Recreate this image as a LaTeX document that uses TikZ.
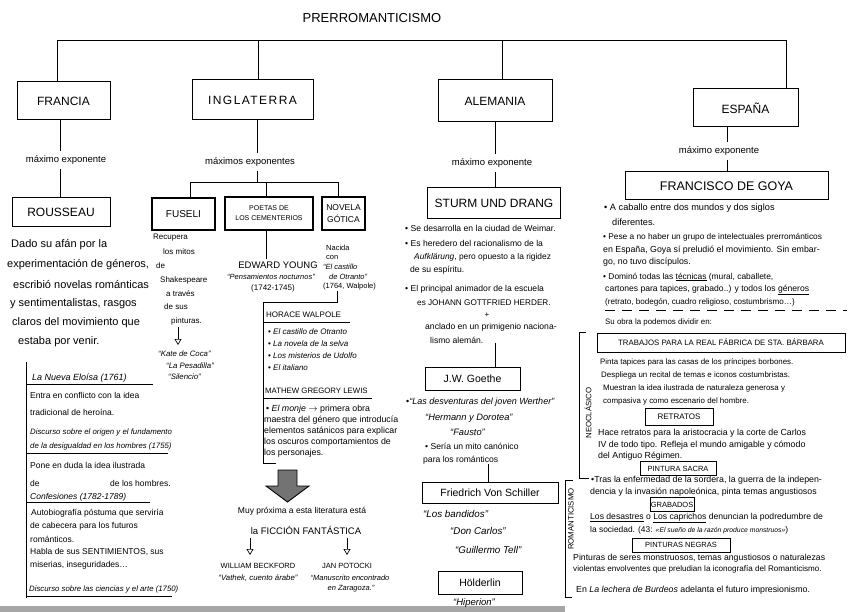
\documentclass[tikz,border=0pt]{standalone}
\usepackage{fontspec}
\setmainfont{Liberation Sans}
\usetikzlibrary{arrows.meta}
\newcommand\myfs[1]{\fontsize{#1}{#1}\selectfont}
\begin{document}
\begin{tikzpicture}[x=1pt,y=-1pt,
  box/.style={draw, line width=1pt, inner sep=0pt},
  tbox/.style={draw, line width=2pt, inner sep=0pt},
  tx/.style={anchor=west, inner sep=0pt},
  tc/.style={anchor=center, inner sep=0pt},
  lbl/.style={anchor=center, inner sep=4pt},
  ln/.style={line width=0.9pt},
  oarr/.style={line width=0.7pt, -{Triangle[open,length=6pt,width=7pt]}},
]
\useasboundingbox (0,0) rectangle (848,612);
\fill[white] (0,0) rectangle (848,612);
\fill[black!35] (0,606) rectangle (565,612);

% title and bus
\node[tc, font=\myfs{13}] (title) at (372,18) {PRERROMANTICISMO};
\coordinate (bF) at (57,40);
\coordinate (bI) at (258,40);
\coordinate (bA) at (502,40);
\coordinate (bE) at (786,40);
\draw[ln] (bF) -- (bE);

\node[box, minimum width=93, minimum height=38, font=\myfs{12}] (francia) at (63.5,101) {FRANCIA};
\node[box, minimum width=121, minimum height=40, font=\myfs{12}\addfontfeature{LetterSpace=12}] (ingl) at (252.5,100) {INGLATERRA};
\node[box, minimum width=114, minimum height=42, font=\myfs{12}] (alem) at (495,101) {ALEMANIA};
\node[box, minimum width=105, minimum height=38, font=\myfs{12}] (espana) at (745.5,108) {ESPAÑA};
\draw[ln] (bF) -- (bF |- francia.north);
\draw[ln] (bI) -- (bI |- ingl.north);
\draw[ln] (bA) -- (bA |- alem.north);
\draw[ln] (bE) -- (bE |- espana.north);

% ---------------- FRANCIA
\coordinate (vF) at (60,0);
\node[lbl, font=\myfs{9.5}] (mxF) at (66,160) {máximo exponente};
\node[box, minimum width=98, minimum height=29, font=\myfs{12}] (rousseau) at (61,212.5) {ROUSSEAU};
\draw[ln] (francia.south -| vF) -- (mxF.north -| vF);
\draw[ln] (mxF.south -| vF) -- (rousseau.north -| vF);

\node[tx, font=\myfs{11}] (ro1) at (11,245) {Dado su afán por la};
\node[tx, font=\myfs{11}] (ro2) at (7,265) {experimentación de géneros,};
\node[tx, font=\myfs{11}] (ro3) at (13,285) {escribió novelas románticas};
\node[tx, font=\myfs{11}] (ro4) at (10,304) {y sentimentalistas, rasgos};
\node[tx, font=\myfs{11}] (ro5) at (12,323) {claros del movimiento que};
\node[tx, font=\myfs{11}] (ro6) at (18,342) {estaba por venir.};

\coordinate (fr1) at (26,362);
\coordinate (fr2) at (26,598);
\draw[ln] (fr1) -- (fr2);
\node[tx, font=\myfs{9}\itshape] (fe1) at (32,378) {La Nueva Eloísa (1761)};
\draw[ln] (26,384) -- (153,384);
\node[tx, font=\myfs{8.5}] (fe2) at (30,395) {Entra en conflicto con la idea};
\node[tx, font=\myfs{8.5}] (fe3) at (30,412) {tradicional de heroína.};
\node[tx, font=\myfs{7.8}\itshape] (fe4) at (30,432) {Discurso sobre el origen y el fundamento};
\node[tx, font=\myfs{7.8}\itshape] (fe5) at (30,446) {de la desigualdad en los hombres (1755)};
\draw[ln] (26,453) -- (168,453);
\node[tx, font=\myfs{8.5}] (fe6) at (30,465) {Pone en duda la idea ilustrada};
\node[tx, font=\myfs{8.5}] (fe7) at (30,483) {de};
\node[tx, font=\myfs{8.5}] (fe8) at (110,483) {de los hombres.};
\node[tx, font=\myfs{8.5}\itshape] (fe9) at (30,497) {Confesiones (1782-1789)};
\draw[ln] (26,502) -- (150,502);
\node[tx, font=\myfs{8.5}] (fe10) at (31,513) {Autobiografía póstuma que serviría};
\node[tx, font=\myfs{8.5}] (fe11) at (30,526) {de cabecera para los futuros};
\node[tx, font=\myfs{8.5}] (fe12) at (30,539) {románticos.};
\node[tx, font=\myfs{8.5}] (fe13) at (30,552) {Habla de sus SENTIMIENTOS, sus};
\node[tx, font=\myfs{8.5}] (fe14) at (30,565) {miserias, inseguridades\dots};
\node[tx, font=\myfs{7.8}\itshape] (fe15) at (29,589) {Discurso sobre las ciencias y el arte (1750)};
\draw[ln] (26,596) -- (172,596);

% ---------------- INGLATERRA
\coordinate (vI) at (257,0);
\node[lbl, font=\myfs{9.5}] (mxI) at (250,162) {máximos exponentes};
\coordinate (brI) at (257,182);
\coordinate (dF) at (190,182);
\coordinate (dP) at (266,182);
\coordinate (dN) at (338,182);
\node[tbox, minimum width=63, minimum height=32, font=\myfs{10}] (fuseli) at (183.5,214) {FUSELI};
\node[tbox, minimum width=88, minimum height=33, align=center, font=\myfs{7}] (poetas) at (269,213.5) {POETAS DE\\[3pt]LOS CEMENTERIOS};
\node[tbox, minimum width=43, minimum height=33, align=center, font=\myfs{8.5}] (novela) at (343.5,213.5) {NOVELA\\[3pt]GÓTICA};
\draw[ln] (ingl.south -| vI) -- (mxI.north -| vI);
\draw[ln] (mxI.south -| vI) -- (brI);
\draw[ln] (dF |- fuseli.north) -- (dF) -- (dN) -- (dN |- novela.north);
\draw[ln] (dP) -- (dP |- poetas.north);

\node[tx, font=\myfs{8}] (fu1) at (153,238) {Recupera};
\node[tx, font=\myfs{8}] (fu2) at (163,252) {los mitos};
\node[tx, font=\myfs{8}] (fu3) at (156,266) {de};
\node[tx, font=\myfs{8}] (fu4) at (160,280) {Shakespeare};
\node[tx, font=\myfs{8}] (fu5) at (166,294) {a través};
\node[tx, font=\myfs{8}] (fu6) at (164,307) {de sus};
\node[tx, font=\myfs{8}] (fu7) at (171,321) {pinturas.};
\coordinate (fa1) at (178,327);
\coordinate (fa2) at (178,345);
\draw[oarr] (fa1) -- (fa2);
\node[tx, font=\myfs{7.8}\itshape] (fu8) at (158,354) {“Kate de Coca”};
\node[tx, font=\myfs{7.8}\itshape] (fu9) at (166,366) {“La Pesadilla”};
\node[tx, font=\myfs{7.8}\itshape] (fu10) at (168,377) {“Silencio”};

\coordinate (vP) at (266,0);
\node[anchor=center, inner sep=2pt, font=\myfs{9.5}] (ey1) at (278,265) {EDWARD YOUNG};
\draw[ln] (poetas.south -| vP) -- (ey1.north -| vP);
\node[tc, font=\myfs{7.5}\itshape] (ey2) at (271,277) {“Pensamientos nocturnos”};
\node[tc, font=\myfs{8}] (ey3) at (273,288) {(1742-1745)};

\node[tx, font=\myfs{7.5}] (nv1) at (326,248) {Nacida};
\node[tx, font=\myfs{7.5}] (nv2) at (326,258) {con};
\node[tx, font=\myfs{7.5}\itshape] (nv3) at (323,267) {“El castillo};
\node[tx, font=\myfs{7.5}\itshape] (nv4) at (329,277) {de Otranto”};
\node[tx, font=\myfs{7.5}] (nv5) at (323,287) {(1764, Walpole)};
\coordinate (w1) at (337,302);
\coordinate (w2) at (263,302);
\coordinate (w3) at (263,463);
\coordinate (w4) at (276,463);
\draw[ln] (nv5.south -| w1) -- (w1) -- (w2) -- (w3) -- (w4);

\node[tx, font=\myfs{8}] (hw0) at (266,315) {HORACE WALPOLE};
\draw[ln] (263,322) -- (350,322);
\node[tx, font=\myfs{8}] (hw1) at (268,332) {• \textit{El castillo de Otranto}};
\node[tx, font=\myfs{8}] (hw2) at (268,344) {• \textit{La novela de la selva}};
\node[tx, font=\myfs{8}] (hw3) at (268,356) {• \textit{Los misterios de Udolfo}};
\node[tx, font=\myfs{8}] (hw4) at (268,368) {• \textit{El italiano}};
\node[tx, font=\myfs{7.8}] (ml0) at (265,391) {MATHEW GREGORY LEWIS};
\draw[ln] (263,398) -- (372,398);
\node[tx, font=\myfs{8.8}] (ml1) at (266,409) {• \textit{El monje} $\rightarrow$ primera obra};
\node[tx, font=\myfs{8.8}] (ml2) at (264,420) {maestra del género que introducía};
\node[tx, font=\myfs{8.8}] (ml3) at (264,431) {elementos satánicos para explicar};
\node[tx, font=\myfs{8.8}] (ml4) at (264,442) {los oscuros comportamientos de};
\node[tx, font=\myfs{8.8}] (ml5) at (264,453) {los personajes.};

% big arrow
\draw[line width=0.9pt, fill=black!55] (278,470) -- (297,470) -- (297,486) -- (309,486) -- (287.5,502) -- (266,486) -- (278,486) -- cycle;
\node[tc, font=\myfs{8.5}] (ff1) at (302,511) {Muy próxima a esta literatura está};
\node[tc, font=\myfs{9.5}] (ff2) at (306,530) {la FICCIÓN FANTÁSTICA};
\coordinate (fb1) at (250,538);
\coordinate (fb2) at (250,555);
\coordinate (fp1) at (347,538);
\coordinate (fp2) at (347,555);
\draw[oarr] (fb1) -- (fb2);
\draw[oarr] (fp1) -- (fp2);
\node[tc, font=\myfs{7.5}] (wb1) at (258,566) {WILLIAM BECKFORD};
\node[tc, font=\myfs{7.8}\itshape] (wb2) at (258,578) {“Vathek, cuento árabe”};
\node[tc, font=\myfs{7.5}] (jp1) at (347,566) {JAN POTOCKI};
\node[tc, font=\myfs{7.5}\itshape] (jp2) at (350,578) {“Manuscrito encontrado};
\node[tc, font=\myfs{7.5}\itshape] (jp3) at (351,589) {en Zaragoza.”};

% ---------------- ALEMANIA
\coordinate (vA) at (495,0);
\node[lbl, font=\myfs{9.5}] (mxA) at (492,163) {máximo exponente};
\node[box, minimum width=133, minimum height=31, font=\myfs{12}] (sturm) at (494,203) {STURM UND DRANG};
\draw[ln] (alem.south -| vA) -- (mxA.north -| vA);
\draw[ln] (mxA.south -| vA) -- (sturm.north -| vA);
\node[tx, font=\myfs{8.6}] (al1) at (405,228) {• Se desarrolla en la ciudad de Weimar.};
\node[tx, font=\myfs{8.6}] (al2) at (405,243) {• Es heredero del racionalismo de la};
\node[tx, font=\myfs{8.4}] (al3) at (414,257) {\textit{Aufklärung}, pero opuesto a la rigidez};
\node[tx, font=\myfs{8.6}] (al4) at (410,270) {de su espíritu.};
\node[tx, font=\myfs{8.6}] (al5) at (405,289) {• El principal animador de la escuela};
\node[tx, font=\myfs{8.2}] (al6) at (417,303) {es JOHANN GOTTFRIED HERDER.};
\node[tc, font=\myfs{8}] (al7) at (487,315) {+};
\node[tx, font=\myfs{8.6}] (al8) at (425,327) {anclado en un primigenio naciona-};
\node[tx, font=\myfs{8.6}] (al9) at (430,340) {lismo alemán.};
\node[box, minimum width=95, minimum height=23, font=\myfs{10.5}] (goethe) at (472.5,378.5) {J.W. Goethe};
\draw[ln] (al9.south -| vA) -- (goethe.north -| vA);
\node[tx, font=\myfs{9}] (go1) at (406,402) {•\textit{“Las desventuras del joven Werther”}};
\node[tx, font=\myfs{9.3}\itshape] (go2) at (425,418) {“Hermann y Dorotea”};
\node[tx, font=\myfs{9.3}\itshape] (go3) at (450,432) {“Fausto”};
\node[tx, font=\myfs{8.6}] (go4) at (425,446) {• Sería un mito canónico};
\node[tx, font=\myfs{8.6}] (go5) at (423,460) {para los románticos};
\coordinate (vS) at (488,0);
\node[box, minimum width=136, minimum height=21, font=\myfs{10.5}] (schiller) at (490,492.5) {Friedrich Von Schiller};
\draw[ln] (go5.south -| vS) -- (schiller.north -| vS);
\node[tx, font=\myfs{9.8}\itshape] (sc1) at (423,514) {“Los bandidos”};
\node[tx, font=\myfs{9.8}\itshape] (sc2) at (450,531) {“Don Carlos”};
\node[tx, font=\myfs{9.8}\itshape] (sc3) at (455,550) {“Guillermo Tell”};
\node[box, minimum width=84, minimum height=23, font=\myfs{10.5}] (holderlin) at (480,582.5) {Hölderlin};
\node[tx, font=\myfs{9.5}\itshape] (ho1) at (453,603) {“Hiperion”};

% ---------------- ESPAÑA
\coordinate (vE) at (727,0);
\node[lbl, font=\myfs{9.5}] (mxE) at (719,151) {máximo exponente};
\node[box, minimum width=203, minimum height=28, font=\myfs{12.5}] (goya) at (726.5,186) {FRANCISCO DE GOYA};
\draw[ln] (espana.south -| vE) -- (mxE.north -| vE);
\draw[ln] (mxE.south -| vE) -- (goya.north -| vE);

\node[tx, font=\myfs{9.2}] (gy1) at (604,208) {• A caballo entre dos mundos y dos siglos};
\node[tx, font=\myfs{9.2}] (gy2) at (612,222) {diferentes.};
\node[tx, font=\myfs{8.3}] (gy3) at (603,237) {• Pese a no haber un grupo de intelectuales prerrománticos};
\node[tx, font=\myfs{8.8}] (gy4) at (603,250) {en España, Goya sí preludió el movimiento. Sin embar-};
\node[tx, font=\myfs{8.8}] (gy5) at (603,262) {go, no tuvo discípulos.};
\node[tx, font=\myfs{8.4}] (gy6) at (603,277) {• Dominó todas las \underline{técnicas} (mural, caballete,};
\node[tx, font=\myfs{8.6}] (gy7) at (605,290) {cartones para tapices, grabado..) y todos los \underline{géneros}};
\node[tx, font=\myfs{8.1}] (gy8) at (605,302) {(retrato, bodegón, cuadro religioso, costumbrismo\dots)};
\draw[line width=0.7pt, dash pattern=on 10pt off 7pt] (605,310) -- (847,310);
\node[tx, font=\myfs{7.9}] (gy9) at (605,322) {Su obra la podemos dividir en:};

% neoclasico bracket
\coordinate (nb1) at (586,332);
\coordinate (nb2) at (579,332);
\coordinate (nb3) at (579,478);
\coordinate (nb4) at (589,478);
\draw[ln] (nb1) -- (nb2) -- (nb3) -- (nb4);
\node[tc, rotate=90, font=\myfs{7.8}] (neo) at (588,413) {NEOCLÁSICO};

\node[box, minimum width=248, minimum height=19, font=\myfs{7.8}] (trab) at (721,342.5) {TRABAJOS PARA LA REAL FÁBRICA DE STA. BÁRBARA};
\node[tx, font=\myfs{7.9}] (tr1) at (600,362) {Pinta tapices para las casas de los príncipes borbones.};
\node[tx, font=\myfs{7.9}] (tr2) at (601,375) {Despliega un recital de temas e iconos costumbristas.};
\node[tx, font=\myfs{7.9}] (tr3) at (603,388) {Muestran la idea ilustrada de naturaleza generosa y};
\node[tx, font=\myfs{7.9}] (tr4) at (603,401) {compasiva y como escenario del hombre.};
\node[box, minimum width=68, minimum height=17, font=\myfs{8}] (retr) at (679,416.5) {RETRATOS};
\node[tx, font=\myfs{8.8}] (re1) at (598,433) {Hace retratos para la aristocracia y la corte de Carlos};
\node[tx, font=\myfs{8.8}] (re2) at (598,445) {IV de todo tipo. Refleja el mundo amigable y cómodo};
\node[tx, font=\myfs{8.8}] (re3) at (598,456) {del Antiguo Régimen.};
\node[box, minimum width=76, minimum height=14, font=\myfs{7.5}] (sacra) at (678,468.5) {PINTURA SACRA};

% romanticismo bracket
\coordinate (rb1) at (573,480);
\coordinate (rb2) at (565,480);
\coordinate (rb3) at (565,597);
\coordinate (rb4) at (572,597);
\draw[ln] (rb1) -- (rb2) -- (rb3) -- (rb4);
\node[tc, rotate=90, font=\myfs{7.8}] (roma) at (571,519) {ROMANTICISMO};

\node[tx, font=\myfs{8.8}] (rm1) at (591,480) {•Tras la enfermedad de la sordera, la guerra de la indepen-};
\node[tx, font=\myfs{8.8}] (rm2) at (590,492) {dencia y la invasión napoleónica, pinta temas angustiosos};
\node[box, minimum width=44, minimum height=14, font=\myfs{7.5}] (grab) at (672,504.5) {GRABADOS};
\node[tx, font=\myfs{8.6}] (rm3) at (590,518) {\underline{Los desastres} o \underline{Los caprichos} denuncian la podredumbre de};
\node[tx, font=\myfs{8.4}] (rm4) at (590,530) {la sociedad. (43: {\itshape\myfs{6.8}«El sueño de la razón produce monstruos»})};
\node[box, minimum width=98, minimum height=14, font=\myfs{7.5}] (negras) at (681,545) {PINTURAS NEGRAS};
\node[tx, font=\myfs{8.7}] (rm5) at (573,558) {Pinturas de seres monstruosos, temas angustiosos o naturalezas};
\node[tx, font=\myfs{8.1}] (rm6) at (573,569) {violentas envolventes que preludian la iconografía del Romanticismo.};
\node[tx, font=\myfs{8.8}] (rm7) at (576,590) {En \textit{La lechera de Burdeos} adelanta el futuro impresionismo.};
\end{tikzpicture}
\end{document}
